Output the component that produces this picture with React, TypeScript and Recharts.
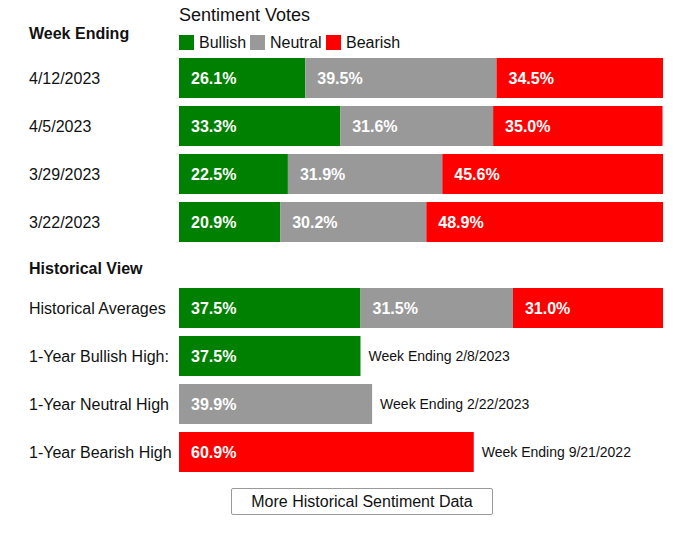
import React from "react";
import { Bar, BarChart, LabelList, XAxis, YAxis } from "recharts";

const FONT = '"Liberation Sans", Arial, sans-serif';
const GREEN = "#008000";
const GRAY = "#999999";
const RED = "#ff0000";

const weekLabels = ["4/12/2023", "4/5/2023", "3/29/2023", "3/22/2023"];
const weekBullish = [26.1, 33.3, 22.5, 20.9];
const weekNeutral = [39.5, 31.6, 31.9, 30.2];
const weekBearish = [34.5, 35.0, 45.6, 48.9];

const histLabels = ["Historical Averages", "1-Year Bullish High:", "1-Year Neutral High", "1-Year Bearish High"];
const histBullish = [37.5, 37.5, 0, 0];
const histNeutral = [31.5, 0, 39.9, 0];
const histBearish = [31.0, 0, 0, 60.9];
const histNotes = ["", "Week Ending 2/8/2023", "Week Ending 2/22/2023", "Week Ending 9/21/2022"];

const weekData = weekLabels.map((name, i) => ({
  name,
  bullish: weekBullish[i],
  neutral: weekNeutral[i],
  bearish: weekBearish[i],
  note: "",
}));

const histData = histLabels.map((name, i) => ({
  name,
  bullish: histBullish[i],
  neutral: histNeutral[i],
  bearish: histBearish[i],
  note: histNotes[i],
}));

const box = (p: any) => {
  const vb = p.viewBox || {};
  return {
    x: Number(vb.x ?? p.x ?? 0),
    y: Number(vb.y ?? p.y ?? 0),
    width: Number(vb.width ?? p.width ?? 0),
    height: Number(vb.height ?? p.height ?? 0),
  };
};

const ValueLabel = (p: any) => {
  const v = Number(p.value);
  if (!v) return null;
  const { x, y, height } = box(p);
  return (
    <text x={x + 12} y={y + height / 2} dy="0.35em" fill="#fff" fontSize={16} fontWeight="bold" fontFamily={FONT}>
      {v.toFixed(1) + "%"}
    </text>
  );
};

const NoteLabel = (p: any) => {
  const { x, y, width, height } = box(p);
  if (!p.value || width <= 0) return null;
  return (
    <text x={x + width + 8} y={y + height / 2} dy="0.35em" fill="#111" fontSize={14} fontFamily={FONT}>
      {p.value}
    </text>
  );
};

const RowTick = (p: any) => (
  <text x={29} y={p.y} dy="0.35em" fill="#111" fontSize={16} fontFamily={FONT}>
    {p.payload.value}
  </text>
);

const StackChart = ({ data, top }: { data: any[]; top: number }) => (
  <div style={{ position: "absolute", left: 0, top }}>
    <BarChart width={680} height={192} data={data} layout="vertical" margin={{ top: 0, right: 17, bottom: 0, left: 0 }} barSize={40}>
      <XAxis type="number" domain={[0, 100]} allowDataOverflow hide />
      <YAxis type="category" dataKey="name" width={179} axisLine={false} tickLine={false} tick={<RowTick />} />
      <Bar dataKey="bullish" stackId="s" fill={GREEN} isAnimationActive={false}>
        <LabelList dataKey="bullish" content={<ValueLabel />} />
        <LabelList dataKey="note" content={<NoteLabel />} />
      </Bar>
      <Bar dataKey="neutral" stackId="s" fill={GRAY} isAnimationActive={false}>
        <LabelList dataKey="neutral" content={<ValueLabel />} />
        <LabelList dataKey="note" content={<NoteLabel />} />
      </Bar>
      <Bar dataKey="bearish" stackId="s" fill={RED} isAnimationActive={false}>
        <LabelList dataKey="bearish" content={<ValueLabel />} />
        <LabelList dataKey="note" content={<NoteLabel />} />
      </Bar>
    </BarChart>
  </div>
);

const legend = [
  { name: "Bullish", color: GREEN, x: 179 },
  { name: "Neutral", color: GRAY, x: 250 },
  { name: "Bearish", color: RED, x: 326 },
];

export default function App() {
  return (
    <div style={{ position: "relative", width: 680, height: 536, margin: -8, background: "#fff", fontFamily: FONT, color: "#111" }}>
      <div style={{ position: "absolute", left: 179, top: 4, fontSize: 18, lineHeight: "22px" }}>Sentiment Votes</div>
      <div style={{ position: "absolute", left: 29, top: 23, fontSize: 16, fontWeight: "bold", lineHeight: "22px" }}>Week Ending</div>
      {legend.map((l) => (
        <div key={l.name} style={{ position: "absolute", left: l.x, top: 35, height: 15, display: "flex", alignItems: "center" }}>
          <span style={{ display: "inline-block", width: 15, height: 15, background: l.color }} />
          <span style={{ marginLeft: 5, fontSize: 16, lineHeight: "15px" }}>{l.name}</span>
        </div>
      ))}
      <StackChart data={weekData} top={54} />
      <div style={{ position: "absolute", left: 29, top: 258, fontSize: 16, fontWeight: "bold", lineHeight: "22px" }}>Historical View</div>
      <StackChart data={histData} top={284} />
      <div
        style={{
          position: "absolute",
          left: 231,
          top: 488,
          width: 260,
          height: 25,
          border: "1px solid #999",
          borderRadius: 2,
          fontSize: 16,
          lineHeight: "25px",
          textAlign: "center",
        }}
      >
        More Historical Sentiment Data
      </div>
    </div>
  );
}
